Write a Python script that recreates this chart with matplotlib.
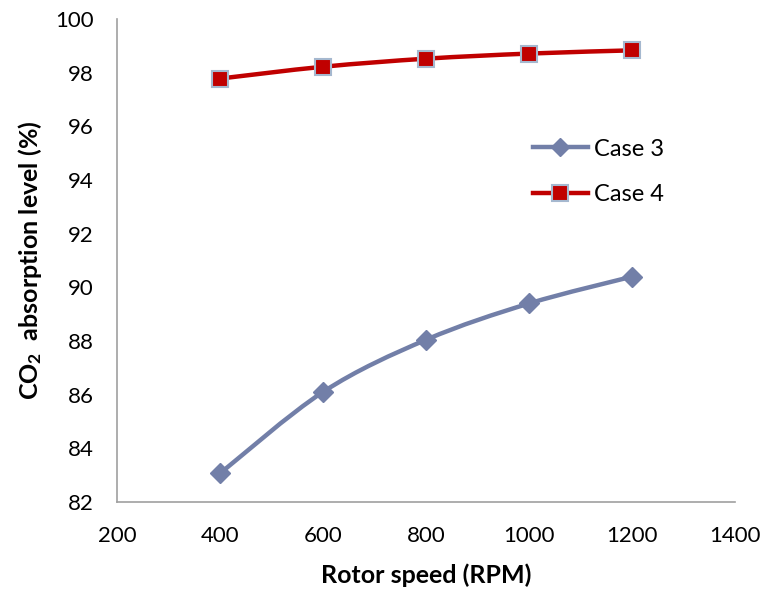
import matplotlib
matplotlib.use("Agg")
import matplotlib.pyplot as plt
from matplotlib.path import Path
from matplotlib.patches import PathPatch
from matplotlib.lines import Line2D
import numpy as np

plt.rcParams['font.family'] = ['Lato', 'DejaVu Sans']
plt.rcParams['mathtext.fontset'] = 'custom'
plt.rcParams['mathtext.rm'] = 'Lato'
plt.rcParams['mathtext.bf'] = 'Lato:bold'

rpm = [400, 600, 800, 1000, 1200]
case3 = [83.08, 86.11, 88.05, 89.40, 90.40]
case4 = [97.78, 98.22, 98.52, 98.71, 98.83]
series_names = ["Case 3", "Case 4"]
xticks = [200, 400, 600, 800, 1000, 1200, 1400]
yticks = [82, 84, 86, 88, 90, 92, 94, 96, 98, 100]

c3_color = '#727FA8'
c4_color = '#C00000'
c4_edge = '#A5B8CF'


def smooth_path(x, y):
    x = np.asarray(x, float)
    y = np.asarray(y, float)
    n = len(x)
    verts = [(x[0], y[0])]
    codes = [Path.MOVETO]
    for i in range(n - 1):
        p0 = np.array([x[max(i - 1, 0)], y[max(i - 1, 0)]])
        p1 = np.array([x[i], y[i]])
        p2 = np.array([x[i + 1], y[i + 1]])
        p3 = np.array([x[min(i + 2, n - 1)], y[min(i + 2, n - 1)]])
        c1 = p1 + (p2 - p0) / 6.0
        c2 = p2 - (p3 - p1) / 6.0
        verts += [tuple(c1), tuple(c2), tuple(p2)]
        codes += [Path.CURVE4] * 3
    return Path(verts, codes)


fig = plt.figure(figsize=(7.73, 5.92), dpi=100)
ax = fig.add_axes([0.152, 0.152, 0.799, 0.816])

for ys, col in [(case3, c3_color), (case4, c4_color)]:
    ax.add_patch(PathPatch(smooth_path(rpm, ys), facecolor='none',
                           edgecolor=col, lw=3.2, capstyle='round', zorder=2))

ax.plot(rpm, case3, linestyle='none', marker='D', ms=10, color=c3_color,
        mec=c3_color, zorder=3)
ax.plot(rpm, case4, linestyle='none', marker='s', ms=12, color=c4_color,
        mec=c4_edge, mew=1.5, zorder=3)

ax.set_xlim(200, 1400)
ax.set_ylim(82, 100)
ax.set_xticks(xticks)
ax.set_yticks(yticks)
ax.tick_params(axis='both', length=0, labelsize=16, pad=17)
for s in ['top', 'right']:
    ax.spines[s].set_visible(False)
for s in ['left', 'bottom']:
    ax.spines[s].set_color('#A0A0A0')
    ax.spines[s].set_linewidth(1.2)

ax.set_xlabel('Rotor speed (RPM)', fontsize=18, fontweight='bold', labelpad=13)
ax.set_ylabel(r'$\mathbf{CO_2}$  absorption level (%)', fontsize=18,
              fontweight='bold', labelpad=8)

handles = [
    Line2D([], [], color=c3_color, lw=3.2, marker='D', ms=9),
    Line2D([], [], color=c4_color, lw=3.2, marker='s', ms=11,
           mec=c4_edge, mew=1.5),
]
ax.legend(handles, series_names, loc='center left',
          bbox_to_anchor=(0.672, 0.683), frameon=False, fontsize=17,
          handlelength=2.35, handletextpad=0.25, labelspacing=1.05,
          borderpad=0, borderaxespad=0)

fig.savefig('out.png', dpi=100)
